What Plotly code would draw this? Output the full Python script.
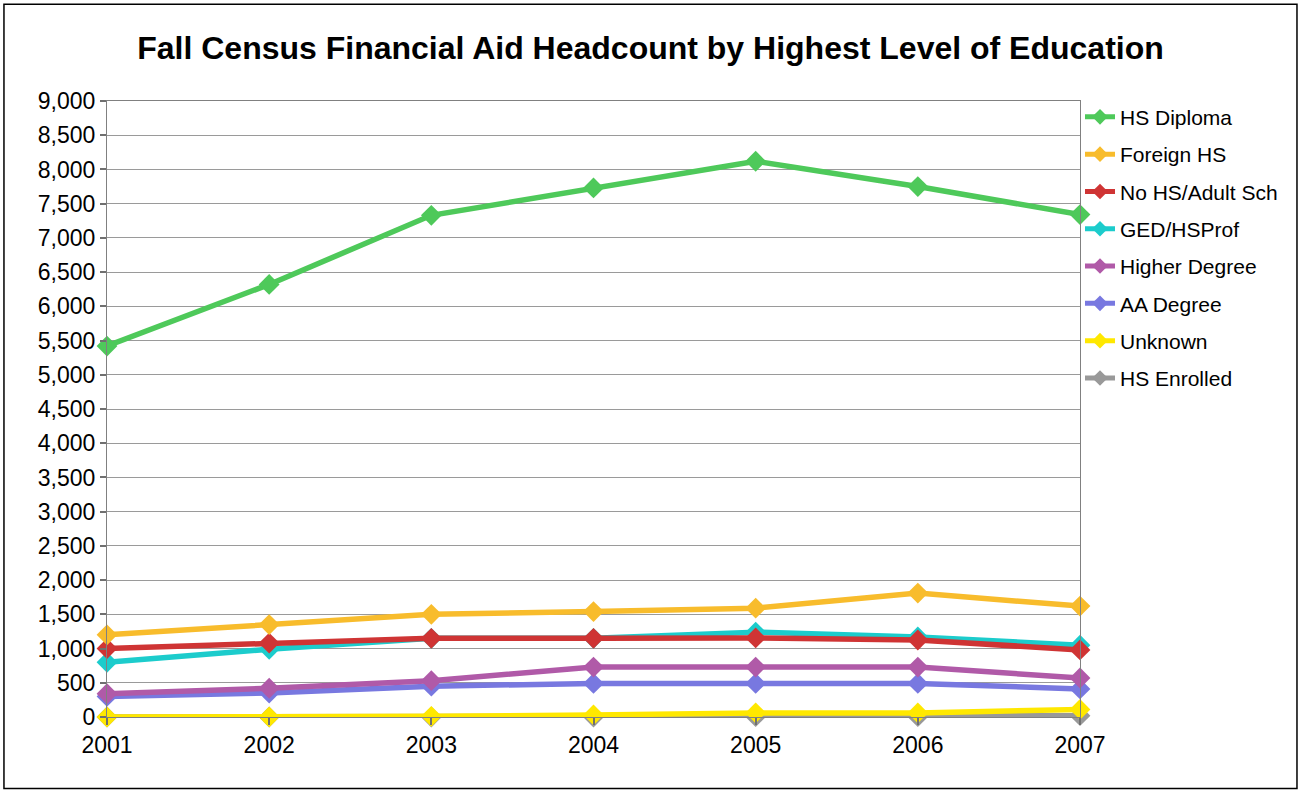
import plotly.graph_objects as go

years = [2001, 2002, 2003, 2004, 2005, 2006, 2007]
series_names = ["HS Diploma", "Foreign HS", "No HS/Adult Sch", "GED/HSProf",
                "Higher Degree", "AA Degree", "Unknown", "HS Enrolled"]
hs_diploma = [5420, 6320, 7330, 7730, 8120, 7750, 7340]
foreign_hs = [1200, 1350, 1500, 1540, 1590, 1810, 1620]
no_hs_adult = [1000, 1080, 1150, 1150, 1155, 1125, 980]
ged_hsprof = [800, 990, 1150, 1150, 1240, 1170, 1050]
higher_degree = [340, 420, 530, 730, 730, 730, 570]
aa_degree = [300, 350, 450, 490, 490, 490, 410]
unknown = [0, 0, 10, 30, 60, 60, 110]
hs_enrolled = [0, 0, 0, 0, 5, 5, 20]
colors = ["#4ec95a", "#f8bc2c", "#cf3434", "#1ccccc", "#b05aa8", "#7878e0", "#ffe800", "#999999"]

all_values = [hs_diploma, foreign_hs, no_hs_adult, ged_hsprof,
              higher_degree, aa_degree, unknown, hs_enrolled]
y_ticks = list(range(0, 9001, 500))

fig = go.Figure()
order = [7, 6, 5, 4, 3, 2, 1, 0]
for i in order:
    fig.add_trace(go.Scatter(
        x=years, y=all_values[i], name=series_names[i], mode="lines+markers",
        line=dict(color=colors[i], width=5.5),
        marker=dict(symbol="diamond", size=16, color=colors[i]),
        legendgroup=series_names[i], legendrank=i + 1, cliponaxis=False,
    ))

fig.update_layout(
    width=1301, height=792,
    paper_bgcolor="white", plot_bgcolor="white",
    margin=dict(l=107, r=221, t=101, b=75),
    font=dict(family="Liberation Sans, Arial, sans-serif", size=21, color="black"),
    title=dict(text="<b>Fall Census Financial Aid Headcount by Highest Level of Education</b>",
               x=0.5, xanchor="center", y=0.94, yanchor="middle",
               font=dict(size=32, color="black")),
    legend=dict(x=1.0, y=1.007, xanchor="left", yanchor="top",
                font=dict(size=21), tracegroupgap=7,
                bgcolor="rgba(0,0,0,0)", itemwidth=30, itemsizing="constant"),
    showlegend=True,
)
fig.update_xaxes(
    range=[2001, 2007], tickvals=years, ticktext=[str(y) for y in years],
    showgrid=False, showline=True, linecolor="#808080", linewidth=1, mirror=True,
    ticks="outside", ticklen=7, tickcolor="#707070", tickwidth=2,
    tickfont=dict(size=23), zeroline=False,
)
fig.update_yaxes(
    range=[0, 9000], tickvals=y_ticks, ticktext=[f"{v:,}" for v in y_ticks],
    showgrid=True, gridcolor="#9a9a9a", gridwidth=1,
    showline=True, linecolor="#808080", linewidth=1, mirror=True,
    ticks="outside", ticklen=6, tickcolor="#707070", tickwidth=2,
    tickfont=dict(size=23), zeroline=False,
)
fig.add_shape(type="rect", xref="paper", yref="paper",
              x0=-0.1059, x1=1.2230, y0=-0.116, y1=1.157,
              line=dict(color="black", width=1.5), fillcolor="rgba(0,0,0,0)", layer="below")

fig.write_html("out.html", config={"displayModeBar": False},
               post_script="document.body.style.margin='0';")
